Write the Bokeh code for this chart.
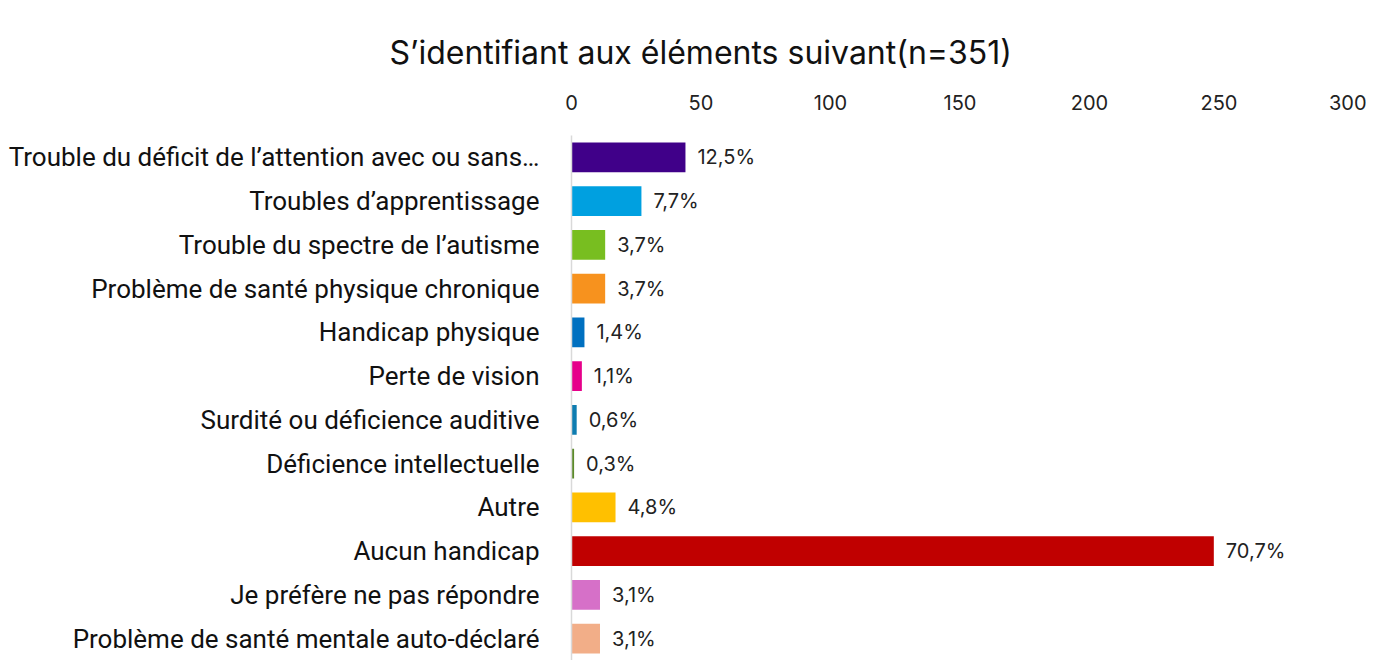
from bokeh.plotting import figure
from bokeh.models import ColumnDataSource, FactorRange, FixedTicker, Range1d
from bokeh.core.properties import value
from bokeh.embed import file_html
from bokeh.resources import INLINE

N_TOTAL = 351
categories = [
    "Trouble du déficit de l’attention avec ou sans…",
    "Troubles d’apprentissage",
    "Trouble du spectre de l’autisme",
    "Problème de santé physique chronique",
    "Handicap physique",
    "Perte de vision",
    "Surdité ou déficience auditive",
    "Déficience intellectuelle",
    "Autre",
    "Aucun handicap",
    "Je préfère ne pas répondre",
    "Problème de santé mentale auto-déclaré",
]
counts = [44, 27, 13, 13, 5, 4, 2, 1, 17, 248, 11, 11]
colors = ["#400089", "#00A0E0", "#78BE20", "#F7921E", "#0070C0", "#E6008A",
          "#0E7CB0", "#5B8A2A", "#FFC000", "#C00000", "#D670C8", "#F2AE88"]
x_ticks = [0, 50, 100, 150, 200, 250, 300]
title_text = "S’identifiant aux éléments suivant(n=351)"

labels = [("%.1f" % (c / N_TOTAL * 100)).replace(".", ",") + "%" for c in counts]

src = ColumnDataSource(dict(cat=categories, val=counts, col=colors, lab=labels))

p = figure(width=1366, height=660, output_backend="svg", toolbar_location=None,
           y_range=FactorRange(factors=list(reversed(categories))),
           x_range=Range1d(0, 300), x_axis_location="above",
           min_border_left=571, min_border_right=18, min_border_top=135,
           min_border_bottom=0, title=title_text)

p.title.align = "left"
p.title.offset = -182
p.title.text_font = "Inter"
p.title.text_font_size = "32px"
p.title.text_font_style = "normal"
p.title.text_color = "#111111"
p.title.standoff = 39

p.hbar(y="cat", right="val", left=0, height=0.68, fill_color="col",
       line_color=None, source=src)
p.text(x="val", y="cat", text="lab", source=src, x_offset=12,
       text_baseline="middle", text_align="left", text_font_size="20px",
       text_font=value("Inter"), text_color="#222222")

p.outline_line_color = None
p.xgrid.visible = False
p.ygrid.visible = False

xa = p.xaxis[0]
xa.ticker = FixedTicker(ticks=x_ticks)
xa.axis_line_color = None
xa.major_tick_line_color = None
xa.minor_tick_line_color = None
xa.major_label_text_font = "Inter"
xa.major_label_text_font_size = "20px"
xa.major_label_text_color = "#222222"
xa.major_label_standoff = 20

ya = p.yaxis[0]
ya.axis_line_color = "#d9d9d9"
ya.axis_line_width = 1.5
ya.major_tick_line_color = None
ya.minor_tick_line_color = None
ya.major_label_text_font = "Roboto"
ya.major_label_text_font_size = "26px"
ya.major_label_text_color = "#111111"
ya.major_label_standoff = 26

open("out.html", "w").write(file_html(p, INLINE))
